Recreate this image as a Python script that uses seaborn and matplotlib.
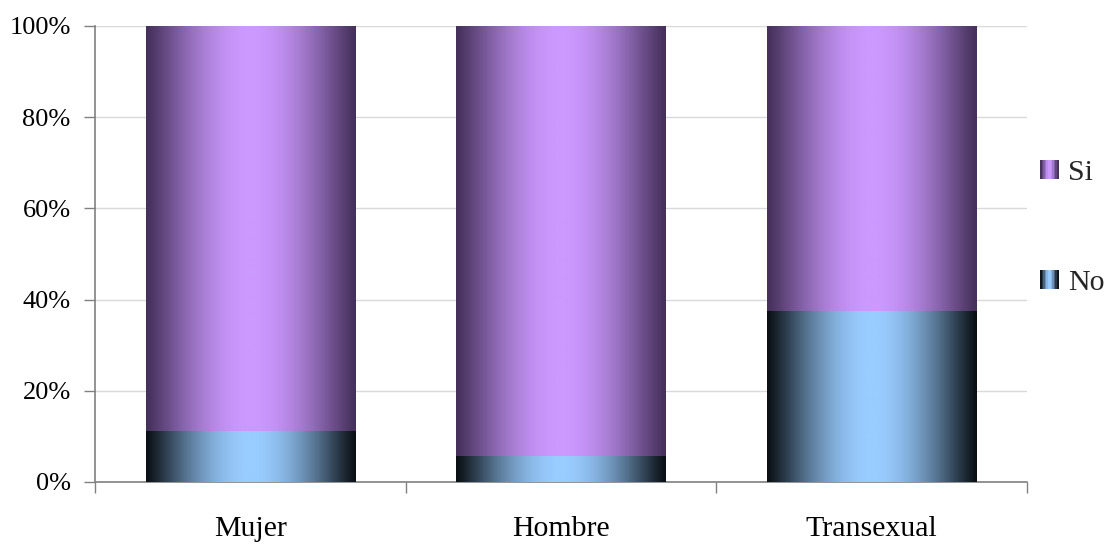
import numpy as np
import pandas as pd
import matplotlib
matplotlib.use("Agg")
import matplotlib.pyplot as plt
import seaborn as sns
from matplotlib.colors import LinearSegmentedColormap
from matplotlib.patches import Rectangle
from matplotlib.legend_handler import HandlerBase

categorias = ["Mujer", "Hombre", "Transexual"]
no_pct = [11.1, 5.8, 37.5]
si_pct = [88.9, 94.2, 62.5]
yticks = [0, 20, 40, 60, 80, 100]

azul = ("#0a0f14", "#99ccff")
morado = ("#44305a", "#cc99ff")

sns.set_theme(style="white")
plt.rcParams["font.family"] = ["Liberation Serif", "DejaVu Serif"]

df = pd.DataFrame({"cat": categorias, "No": no_pct, "Si": si_pct})
df["total"] = df["No"] + df["Si"]

fig = plt.figure(figsize=(11.07, 5.45), dpi=100)
ax = fig.add_axes([95 / 1107, 1 - 482 / 545, (1027 - 95) / 1107, (482 - 26) / 545])

sns.barplot(data=df, x="cat", y="total", color=morado[1], width=0.673, ax=ax,
            saturation=1, edgecolor="none", zorder=2)
sns.barplot(data=df, x="cat", y="No", color=azul[1], width=0.673, ax=ax,
            saturation=1, edgecolor="none", zorder=3)


def perfil(n=256):
    t = np.linspace(0, 1, n)
    return np.sin(np.pi * t) ** 1.1


def cmap_de(par):
    return LinearSegmentedColormap.from_list("g", list(par))


grad = perfil()[None, :]
n = len(categorias)
for i, p in enumerate(ax.patches):
    par = morado if i < n else azul
    x0, y0 = p.get_x(), p.get_y()
    w, h = p.get_width(), p.get_height()
    im = ax.imshow(grad, cmap=cmap_de(par), vmin=0, vmax=1, aspect="auto",
                   extent=(x0, x0 + w, y0, y0 + h), zorder=p.get_zorder() + 0.1,
                   interpolation="bilinear")
    im.set_clip_path(p)

fs_y = 19
fs_x = 21.5
ax.set_xlim(-0.5, 2.5)
ax.set_ylim(0, 100)
ax.set_yticks(yticks)
ax.set_yticklabels([f"{v}%" for v in yticks], fontsize=fs_y, color="black")
ax.set_xlabel("")
ax.set_ylabel("")
ax.set_xticks(range(n))
ax.set_xticklabels(categorias, fontsize=fs_x, color="black")
ax.set_xticks([-0.5, 0.5, 1.5, 2.5], minor=True)
ax.tick_params(axis="x", which="major", length=0, pad=24.5)
ax.tick_params(axis="x", which="minor", length=8, width=1, color="#808080", direction="out", bottom=True)
ax.tick_params(axis="y", length=8, width=1, color="#808080", direction="out", left=True, pad=9.5)
ax.yaxis.grid(True, color="#d9d9d9", linewidth=1, zorder=0)
ax.set_axisbelow(True)
for s in ["top", "right"]:
    ax.spines[s].set_visible(False)
for s in ["left", "bottom"]:
    ax.spines[s].set_color("#808080")
    ax.spines[s].set_linewidth(1.2)


class HandlerGrad(HandlerBase):
    def __init__(self, par):
        super().__init__()
        self.par = par

    def create_artists(self, legend, orig_handle, xdescent, ydescent,
                       width, height, fontsize, trans):
        cm = cmap_de(self.par)
        k = 12
        arts = []
        vals = np.sin(np.pi * (np.arange(k) + 0.5) / k) ** 1.6
        for j in range(k):
            r = Rectangle((-xdescent + j * width / k, -ydescent), width / k + 0.2, height,
                          facecolor=cm(vals[j]), edgecolor="none", transform=trans)
            arts.append(r)
        return arts


h_si = Rectangle((0, 0), 1, 1)
h_no = Rectangle((0, 0), 1, 1)
fig.legend([h_si, h_no], ["Si", "No"], loc="center left",
           bbox_to_anchor=(1040 / 1107, 1 - 228 / 545), frameon=False,
           fontsize=fs_x, handlelength=0.62, handleheight=0.62, handletextpad=0.33,
           labelspacing=2.82, borderpad=0, borderaxespad=0,
           handler_map={h_si: HandlerGrad(morado), h_no: HandlerGrad(azul)})

fig.savefig("out.png", dpi=100, facecolor="white")
